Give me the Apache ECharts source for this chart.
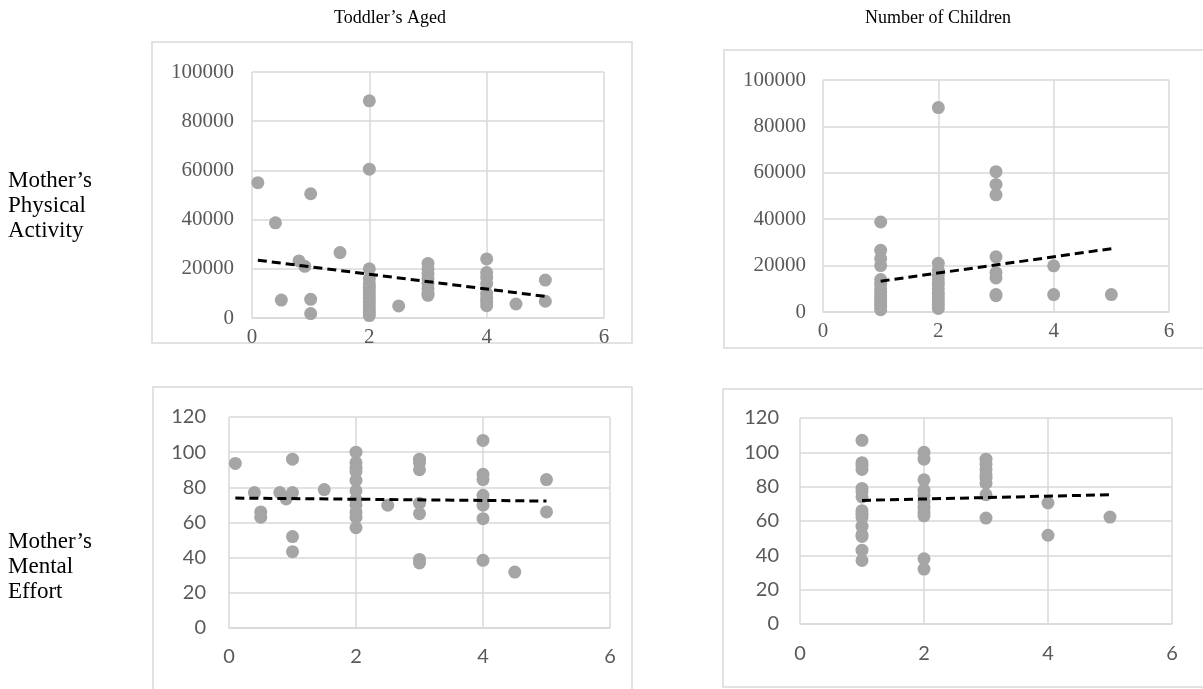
<!DOCTYPE html>
<html>
<head>
<meta charset="utf-8">
<script src="https://cdn.jsdelivr.net/npm/echarts@6/dist/echarts.min.js"></script>
<style>
html,body{margin:0;padding:0;background:#fff;}
#chart{width:1203px;height:689px;}
</style>
</head>
<body>
<div id="chart"></div>
<script>
// ---- Data ----
var colTitles = ["Toddler’s Aged", "Number of Children"];
var rowTitles = ["Mother’s\nPhysical\nActivity", "Mother’s\nMental\nEffort"];
var xTicks = [0, 2, 4, 6];
var activityTicks = [0, 20000, 40000, 60000, 80000, 100000];
var effortTicks = [0, 20, 40, 60, 80, 100, 120];

// Toddler's Aged vs Physical Activity
var ageActivity = [
  [0.1, 55000], [0.4, 38700], [0.5, 7300], [0.8, 23200], [0.9, 21000],
  [1, 50500], [1, 7600], [1, 1800], [1.5, 26600],
  [2, 88300], [2, 60500], [2, 20000], [2, 16000], [2, 14000], [2, 12500], [2, 11000],
  [2, 9500], [2, 8000], [2, 6500], [2, 5000], [2, 3500], [2, 2000], [2, 1000],
  [2.5, 4900],
  [3, 22200], [3, 20000], [3, 18000], [3, 16000], [3, 14000], [3, 12000], [3, 10000], [3, 9200],
  [4, 24000], [4, 18500], [4, 16500], [4, 14000], [4, 10000], [4, 8000], [4, 6500], [4, 5000],
  [4.5, 5700], [5, 15400], [5, 6800]
];
var ageActivityTrend = [[0.1, 23500], [5, 8800]];

// Number of Children vs Physical Activity
var childActivity = [
  [1, 38800], [1, 26600], [1, 23000], [1, 20000], [1, 14000], [1, 12000], [1, 10000],
  [1, 8500], [1, 7000], [1, 5500], [1, 4000], [1, 2500], [1, 1000],
  [2, 88100], [2, 21000], [2, 18000], [2, 16000], [2, 14000], [2, 12000], [2, 10000],
  [2, 8000], [2, 6500], [2, 5000], [2, 3000], [2, 1500],
  [3, 60500], [3, 55000], [3, 50500], [3, 23800], [3, 17000], [3, 14700], [3, 7500], [3, 7000],
  [4, 19900], [4, 7500], [5, 7500]
];
var childActivityTrend = [[1, 13300], [5, 27300]];

// Toddler's Aged vs Mental Effort
var ageEffort = [
  [0.1, 93.6], [0.4, 77], [0.5, 66], [0.5, 63], [0.8, 77], [0.9, 73.4],
  [1, 96], [1, 77], [1, 52], [1, 43.4], [1.5, 78.7],
  [2, 100], [2, 94], [2, 91], [2, 89], [2, 84], [2, 78], [2, 73], [2, 70], [2, 66], [2, 63], [2, 57],
  [2.5, 69.8],
  [3, 96], [3, 94], [3, 90], [3, 71], [3, 65], [3, 39], [3, 37],
  [4, 106.7], [4, 87.4], [4, 84.4], [4, 75.5], [4, 72.6], [4, 69.8], [4, 62.2], [4, 38.5],
  [4.5, 31.8], [5, 84.4], [5, 66]
];
var ageEffortTrend = [[0.1, 73.9], [5, 72.2]];

// Number of Children vs Mental Effort
var childEffort = [
  [1, 107], [1, 94], [1, 92], [1, 90], [1, 79], [1, 77], [1, 74], [1, 66], [1, 64],
  [1, 62], [1, 57], [1, 52], [1, 51], [1, 43], [1, 37],
  [2, 100], [2, 96], [2, 84], [2, 78], [2, 75], [2, 71], [2, 68], [2, 65], [2, 63], [2, 38], [2, 32],
  [3, 96], [3, 93], [3, 90], [3, 87], [3, 85], [3, 82], [3, 75.3], [3, 61.7],
  [4, 70.5], [4, 51.7], [5, 62.3]
];
var childEffortTrend = [[1, 72], [5, 75.3]];

// ---- Chart ----
var chart = echarts.init(document.getElementById('chart'), null, {renderer: 'canvas'});
var gridColor = '#d9d9d9';
var labelColor = '#595959';
var serif = '"Liberation Serif", "Times New Roman", serif';
var sans = 'Lato, "Open Sans", sans-serif';

var grids = [
  {left: 252, top: 72, width: 352, height: 246},
  {left: 823, top: 80, width: 346, height: 232},
  {left: 229, top: 417, width: 381, height: 211},
  {left: 800, top: 418, width: 372, height: 206}
];
var fonts = [
  {family: serif, size: 21, xm: 9, ym: 18},
  {family: serif, size: 21, xm: 9, ym: 17},
  {family: sans, size: 20, xm: 19, ym: 23},
  {family: sans, size: 20, xm: 20, ym: 21}
];
var yTicksList = [activityTicks, activityTicks, effortTicks, effortTicks];
var scatters = [ageActivity, childActivity, ageEffort, childEffort];
var trends = [ageActivityTrend, childActivityTrend, ageEffortTrend, childEffortTrend];

var xAxes = [], yAxes = [], series = [];
for (var i = 0; i < 4; i++) {
  var yt = yTicksList[i];
  xAxes.push({
    gridIndex: i, type: 'value', min: xTicks[0], max: xTicks[xTicks.length - 1], interval: xTicks[1] - xTicks[0],
    axisLine: {show: true, lineStyle: {color: gridColor, width: 1.5}},
    axisTick: {show: false},
    splitLine: {show: true, lineStyle: {color: gridColor, width: 1.5}},
    axisLabel: {color: labelColor, fontFamily: fonts[i].family, fontSize: fonts[i].size, margin: fonts[i].xm,
      formatter: function (v) { return String(v); }}
  });
  yAxes.push({
    gridIndex: i, type: 'value', min: yt[0], max: yt[yt.length - 1], interval: yt[1] - yt[0],
    axisLine: {show: false},
    axisTick: {show: false},
    splitLine: {show: true, lineStyle: {color: gridColor, width: 1.5}},
    axisLabel: {color: labelColor, fontFamily: fonts[i].family, fontSize: fonts[i].size, margin: fonts[i].ym,
      formatter: function (v) { return String(v); }}
  });
  series.push({
    type: 'scatter', xAxisIndex: i, yAxisIndex: i, data: scatters[i],
    symbolSize: 13, itemStyle: {color: '#a5a5a5', opacity: 1}, silent: true, z: 2
  });
  series.push({
    type: 'line', xAxisIndex: i, yAxisIndex: i, data: trends[i], symbol: 'none',
    lineStyle: {color: '#000', width: 3, type: [9, 5]}, silent: true, z: 3
  });
}

var boxes = [
  {x: 152, y: 42, w: 480, h: 301},
  {x: 724, y: 50, w: 485, h: 298},
  {x: 153, y: 387, w: 479, h: 310},
  {x: 723, y: 389, w: 486, h: 298}
];
var graphics = [];
boxes.forEach(function (b) {
  graphics.push({type: 'rect', shape: {x: b.x, y: b.y, width: b.w, height: b.h},
    style: {fill: 'none', stroke: gridColor, lineWidth: 1.5}, z: -1, silent: true});
});
graphics.push({type: 'text', x: 390, y: 18, style: {text: colTitles[0], fill: '#000', font: '18px ' + serif, textAlign: 'center', textVerticalAlign: 'middle'}});
graphics.push({type: 'text', x: 938, y: 18, style: {text: colTitles[1], fill: '#000', font: '18px ' + serif, textAlign: 'center', textVerticalAlign: 'middle'}});
graphics.push({type: 'text', x: 8, y: 206, style: {text: rowTitles[0], fill: '#000', font: '23px ' + serif, lineHeight: 25, textAlign: 'left', textVerticalAlign: 'middle'}});
graphics.push({type: 'text', x: 8, y: 567, style: {text: rowTitles[1], fill: '#000', font: '23px ' + serif, lineHeight: 25, textAlign: 'left', textVerticalAlign: 'middle'}});

chart.setOption({
  animation: false,
  backgroundColor: '#fff',
  grid: grids,
  xAxis: xAxes,
  yAxis: yAxes,
  series: series,
  graphic: graphics
});
</script>
</body>
</html>
